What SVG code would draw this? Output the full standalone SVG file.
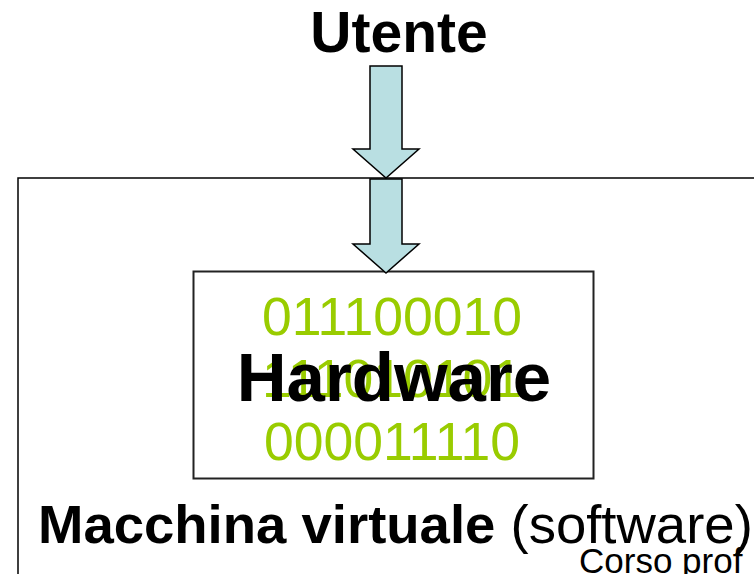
<svg xmlns="http://www.w3.org/2000/svg" width="754" height="574" viewBox="0 0 754 574">
<style>
.arrow{fill:#B9DFE2;stroke:#000;stroke-width:1.5;stroke-linejoin:miter}
.bin{font-family:"Liberation Sans",Arial,sans-serif;font-size:53.5px;fill:#99CC00;text-anchor:middle}
.t{font-family:"Liberation Sans",Arial,sans-serif;fill:#000}
</style>
<rect width="754" height="574" fill="#fff"/>
<g id="vm">
<rect x="18" y="178" width="760" height="420" fill="none" stroke="#000" stroke-width="1.5"/>
<text class="t" x="38" y="543" font-size="54.5"><tspan font-weight="bold">Macchina virtuale</tspan> (software)</text>
</g>
<g id="hardware">
<rect x="193.5" y="271.5" width="400" height="207" fill="#fff" stroke="#222" stroke-width="2"/>
<text class="bin" x="392" y="335">011100010</text>
<text class="bin" x="392" y="397">111010101</text>
<text class="bin" x="392" y="460">000011110</text>
<text class="t" x="394" y="401" font-size="69" font-weight="bold" text-anchor="middle">Hardware</text>
</g>
<g id="utente">
<text class="t" x="399" y="52" font-size="57" font-weight="bold" text-anchor="middle">Utente</text>
</g>
<g id="connectors">
<path class="arrow" d="M370,66 H402 V149 H419 L386,178 L353,149 H370 Z"/>
<path class="arrow" d="M370,179 H402 V244 H419 L386,273 L353,244 H370 Z"/>
</g>
<text class="t" x="579" y="573" font-size="35">Corso prof</text>
</svg>
